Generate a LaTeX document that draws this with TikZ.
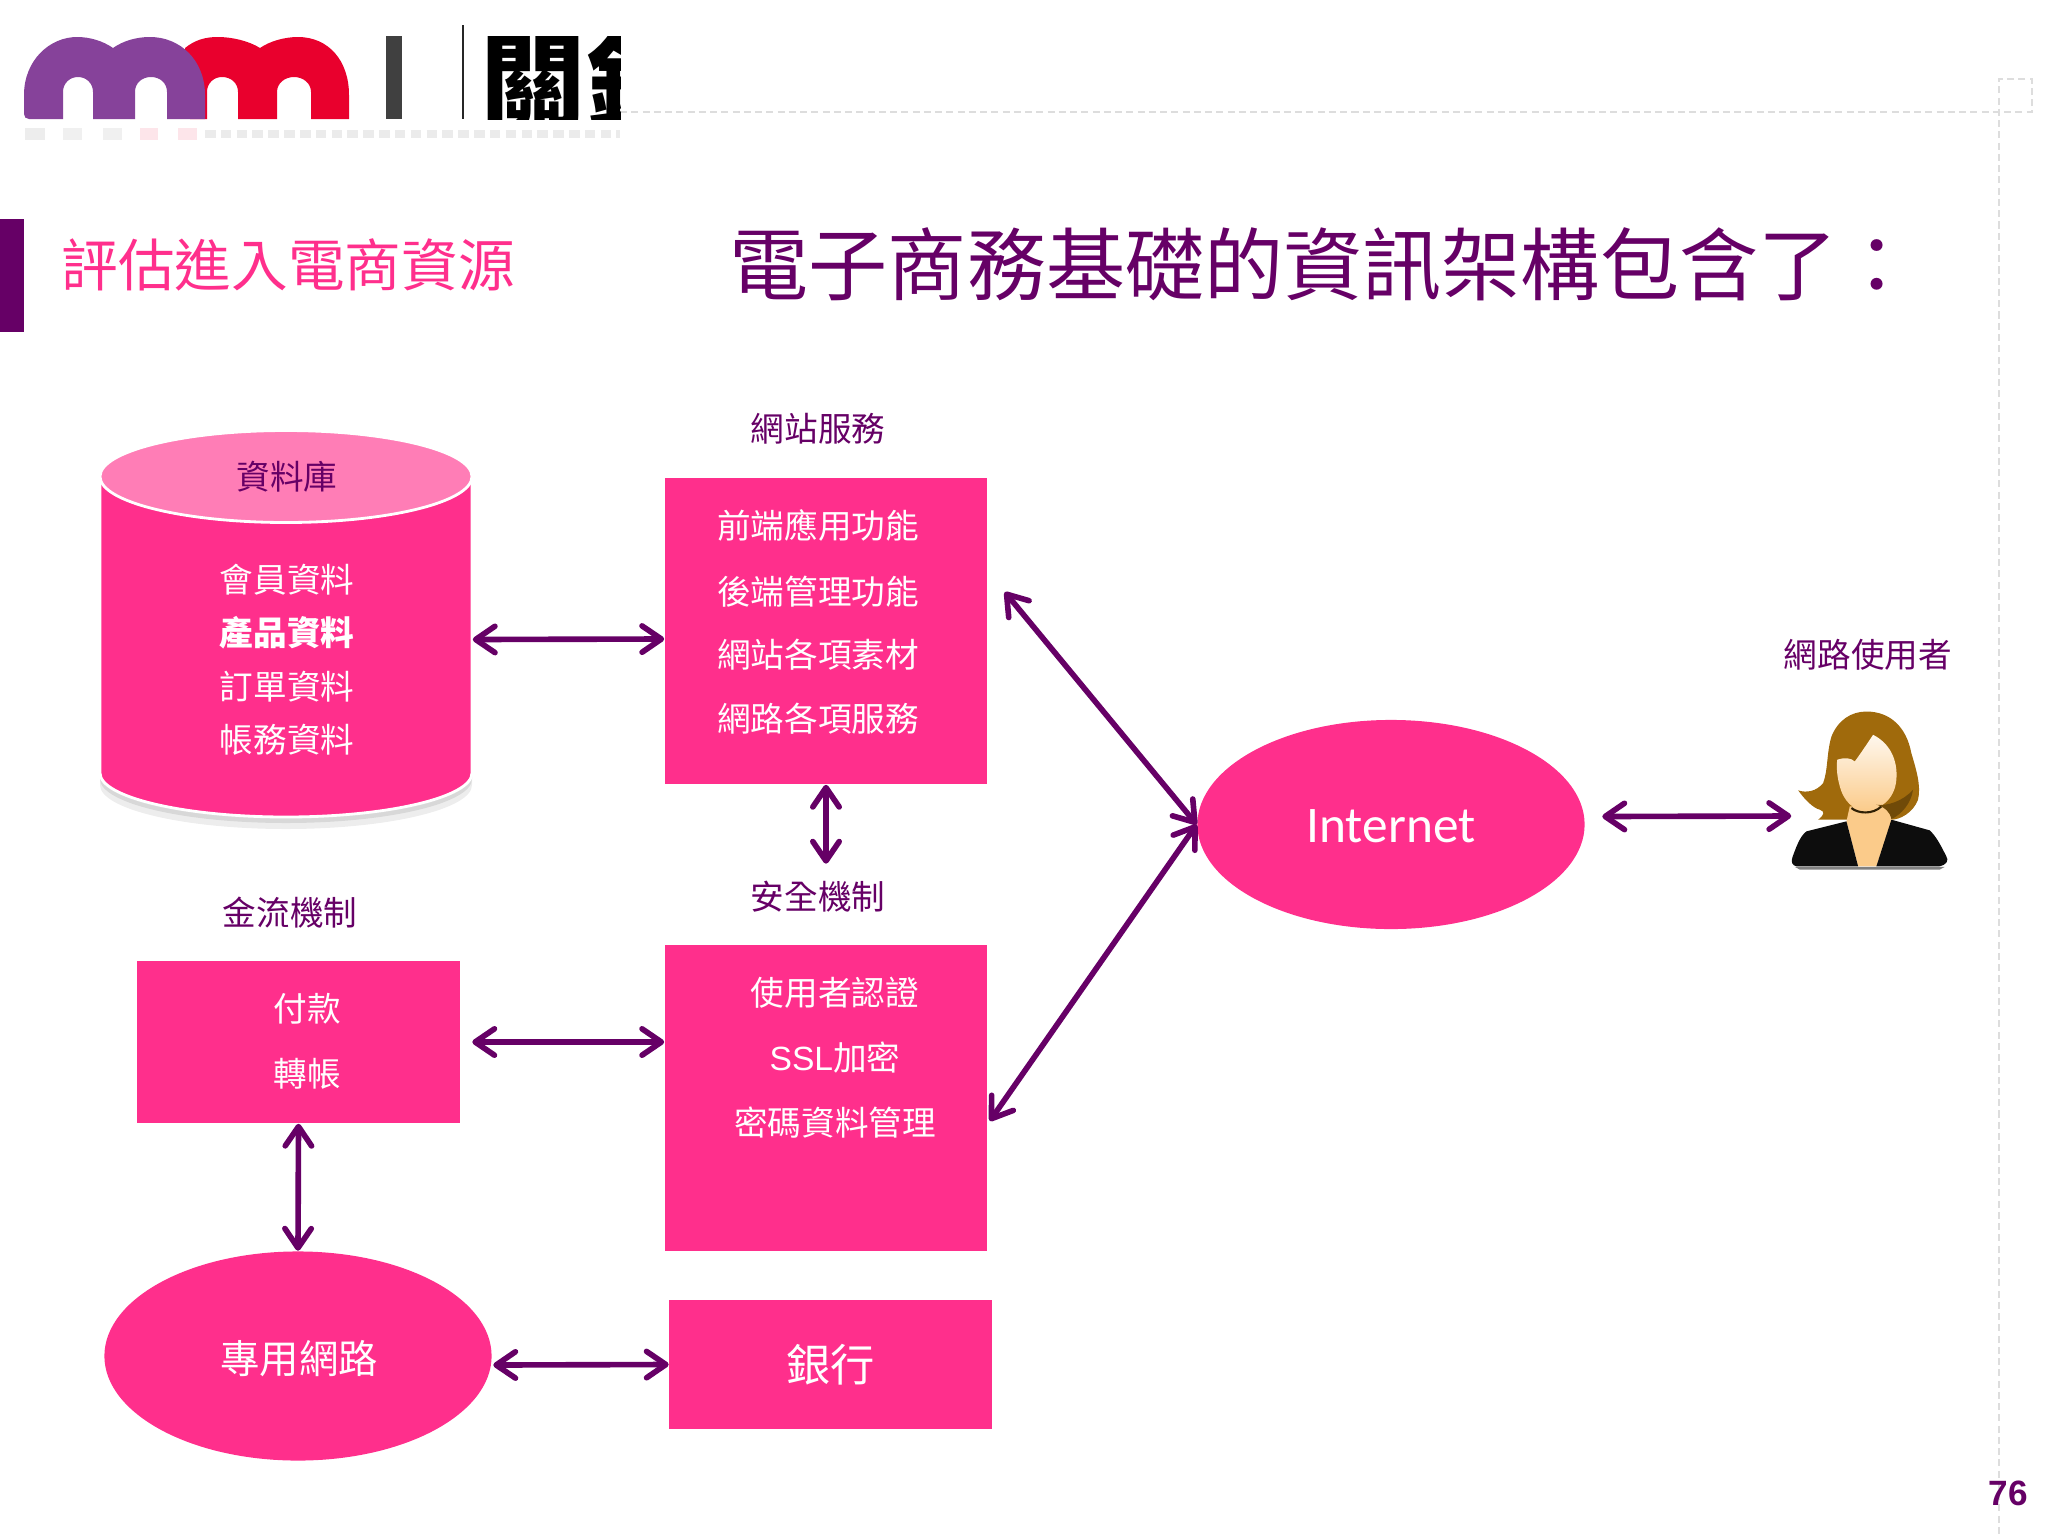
\documentclass[tikz,border=0pt]{standalone}
\usepackage{fontspec}
\usepackage{xcolor}
\usetikzlibrary{calc,arrows.meta,shapes.geometric}
\setmainfont{Noto Sans CJK TC}
\newfontfamily\latinfont{Liberation Sans}
\newfontfamily\netfont{Carlito}
\definecolor{mainpurple}{HTML}{660066}
\definecolor{barpink}{HTML}{FF2F8C}
\definecolor{toppink}{HTML}{FF7DB6}
\definecolor{dashgray}{HTML}{DDDDDD}
\definecolor{logopurple}{HTML}{86429A}
\definecolor{logored}{HTML}{E9002D}
\definecolor{hairbrown}{HTML}{A06A0C}
\definecolor{skintone}{HTML}{FBCB8A}
\tikzset{
  labeltext/.style={font=\fontsize{9.56}{11}\selectfont, text=mainpurple, inner sep=0pt},
  boxtext/.style={font=\fontsize{9.56}{11}\selectfont, text=white, inner sep=0pt},
  pinkbox/.style={rectangle, fill=barpink, inner sep=0pt, minimum width=3.22cm},
  pinkellipse/.style={ellipse, fill=barpink, inner sep=0pt, minimum width=3.87cm, minimum height=2.09cm},
  linkarrow/.style={draw=mainpurple, line width=1.6pt, line cap=round, {Straight Barb[length=5.5pt,width=7.5pt,round]}-{Straight Barb[length=5.5pt,width=7.5pt,round]}},
  framedash/.style={draw=dashgray, line width=0.7pt, dash pattern=on 2pt off 1.2pt}
}
\begin{document}
\begin{tikzpicture}[x=0.01cm, y=-0.01cm]
  \useasboundingbox (0,0) rectangle (2048,1536);
  \draw[framedash] (620,112) -- (2032,112) -- (2032,79) -- (1999,79) -- (1999,1536);
  \fill[logored] (185,48) .. controls (195,40) and (205,37) .. (218,37) .. controls (232,37) and (249,41) .. (260,48) .. controls (270,41) and (285,37) .. (298,37) .. controls (328,37) and (349,60) .. (349,95) -- (349,119) -- (311,119) -- (311,92) .. controls (311,83) and (303,77) .. (294,77) .. controls (285,77) and (277,83) .. (277,92) -- (277,119) -- (238,119) -- (238,92) .. controls (238,83) and (231,77) .. (222,77) .. controls (214,77) and (207,83) .. (207,92) -- (207,119) -- (190,119) -- cycle;
  \fill[logopurple] (24,114) -- (24,95) .. controls (24,60) and (50,37) .. (77,37) .. controls (90,37) and (103,41) .. (113,48) .. controls (123,41) and (136,37) .. (150,37) .. controls (180,37) and (205,60) .. (205,95) -- (205,119) -- (167,119) -- (167,92) .. controls (167,83) and (160,77) .. (151,77) .. controls (142,77) and (135,83) .. (135,92) -- (135,119) -- (93,119) -- (93,92) .. controls (93,83) and (86,77) .. (78,77) .. controls (70,77) and (63,83) .. (63,92) -- (63,119) -- (29,119) .. controls (26,119) and (24,117) .. (24,114) -- cycle;
  \fill[black!75] (386,36) rectangle (402,119);
  \fill[black!85] (462,25) rectangle (464,119);
  \begin{scope}
    \clip (470,36) rectangle (620,119);
    \node[font=\fontsize{30}{32}\selectfont\bfseries, anchor=west, inner sep=0pt] (logochars) at (480,82) {關鈺};
  \end{scope}
  \fill[black!7] (25,128) rectangle (45,140);
  \fill[black!6] (63,128) rectangle (82,140);
  \fill[black!6] (103,128) rectangle (122,140);
  \fill[logored!10] (140,128) rectangle (158,140);
  \fill[logored!10] (178,128) rectangle (197,140);
  \draw[black!8, line width=2pt, dash pattern=on 3pt off 1.5pt] (205,134) -- (620,134);
  \fill[mainpurple] (0,219) rectangle (24,332);
  \node[font=\fontsize{16.1}{18}\selectfont, text=barpink, anchor=west, inner sep=0pt] (sidetitle) at (61,265) {評估進入電商資源};
  \node[font=\fontsize{22.5}{26}\selectfont, text=mainpurple, anchor=west, inner sep=0pt] (maintitle) at (729,264) {電子商務基礎的資訊架構包含了：};
  \fill[black, opacity=0.07] (100,486) -- (100,785) .. controls (100,809) and (183,829) .. (286,829) .. controls (389,829) and (472,809) .. (472,785) -- (472,486) -- cycle;
  \fill[black, opacity=0.09] (100,486) -- (100,779) .. controls (100,803) and (183,823) .. (286,823) .. controls (389,823) and (472,803) .. (472,779) -- (472,486) -- cycle;
  \node[rectangle, inner sep=0pt, minimum width=3.72cm, minimum height=3.85cm] (db) at (286,624.5) {};
  \filldraw[fill=barpink, draw=white, line width=0.8pt] (100,477) -- (100,773) .. controls (100,797) and (183,817) .. (286,817) .. controls (389,817) and (472,797) .. (472,773) -- (472,477) -- cycle;
  \filldraw[fill=toppink, draw=white, line width=0.8pt] (286,476.5) ellipse [x radius=186, y radius=46];
  \node[labeltext] (dbtitle) at (287,477) {資料庫};
  \node[boxtext] (dbline1) at (287,580) {會員資料};
  \node[boxtext, font=\fontsize{9.56}{11}\selectfont\bfseries] (dbline2) at (287,633) {產品資料};
  \node[boxtext] (dbline3) at (287,687) {訂單資料};
  \node[boxtext] (dbline4) at (287,740) {帳務資料};
  \node[labeltext] (weblabel) at (818,429) {網站服務};
  \node[pinkbox, minimum height=3.06cm] (web) at (826,631) {};
  \node[boxtext] (webline1) at (818,525) {前端應用功能};
  \node[boxtext] (webline2) at (818,592) {後端管理功能};
  \node[boxtext] (webline3) at (818,655) {網站各項素材};
  \node[boxtext] (webline4) at (818,719) {網路各項服務};
  \node[labeltext] (seclabel) at (818,897) {安全機制};
  \node[pinkbox, minimum height=3.06cm] (sec) at (826,1098) {};
  \node[boxtext] (secline1) at (835,993) {使用者認證};
  \node[boxtext] (secline2) at (835,1058) {{\latinfont SSL}加密};
  \node[boxtext] (secline3) at (835,1123) {密碼資料管理};
  \node[labeltext] (paylabel) at (290,913) {金流機制};
  \node[pinkbox, minimum height=1.62cm] (pay) at (298.5,1042) {};
  \node[boxtext] (payline1) at (307,1009) {付款};
  \node[boxtext] (payline2) at (307,1074) {轉帳};
  \node[pinkellipse] (lease) at (298,1356) {};
  \node[font=\fontsize{11.2}{13}\selectfont, text=white, inner sep=0pt] (leasetext) at (299,1359) {專用網路};
  \node[pinkbox, minimum height=1.29cm, font=\fontsize{12.6}{14}\selectfont, text=white] (bank) at (830.5,1364.5) {銀行};
  \node[pinkellipse] (net) at (1391,824.5) {};
  \node[font=\fontsize{14.6}{16}\selectfont\netfont, text=white, inner sep=0pt] (nettext) at (1391,826) {Internet};
  \node[labeltext] (userlabel) at (1868,655) {網路使用者};
  \node[inner sep=0pt, minimum width=1.56cm, minimum height=1.56cm] (user) at (1870,790) {};
  \begin{scope}[shift={(1700,620)}, x=0.00333cm, y=-0.00333cm]
    \fill[hairbrown] (500,275) .. controls (570,275) and (620,320) .. (635,400) .. controls (650,450) and (665,500) .. (655,540) .. controls (640,580) and (600,600) .. (575,600) -- (355,600) .. controls (375,585) and (375,575) .. (360,570) .. controls (340,565) and (315,540) .. (295,512) .. controls (320,520) and (350,515) .. (370,490) .. controls (385,450) and (380,400) .. (395,350) .. controls (415,300) and (455,275) .. (500,275) -- cycle;
    \fill[skintone] (450,560) -- (570,560) -- (578,600) -- (530,740) -- (475,740) -- (440,605) -- cycle;
    \fill[black!50] (285,742) -- (735,742) -- (720,750) -- (300,750) -- cycle;
    \fill[black!95] (440,605) -- (475,740) -- (290,740) .. controls (278,738) and (272,728) .. (278,712) .. controls (290,680) and (300,650) .. (320,635) -- cycle;
    \fill[black!95] (575,600) -- (530,740) -- (720,740) .. controls (742,735) and (748,722) .. (740,710) .. controls (725,680) and (710,650) .. (690,632) -- cycle;
    \shade[top color=white!85!skintone, bottom color=skintone] (412,420) .. controls (435,412) and (455,415) .. (465,425) .. controls (480,405) and (500,375) .. (520,345) .. controls (570,370) and (595,420) .. (590,480) .. controls (585,540) and (540,570) .. (500,575) .. controls (460,575) and (430,540) .. (420,500) .. controls (412,470) and (410,450) .. (412,420) -- cycle;
    \draw[black!70!hairbrown, line width=0.6pt] (455,565) .. controls (475,582) and (520,585) .. (545,560);
    \fill[black!30!hairbrown] (530,555) .. controls (560,560) and (610,545) .. (640,510) .. controls (635,550) and (605,585) .. (575,598) .. controls (570,575) and (555,562) .. (530,555) -- cycle;
  \end{scope}
  \draw[linkarrow] ($(db.east)+(0,15)$) -- ($(web.west)+(0,8)$);
  \draw[linkarrow] (web.south) -- ($(web.south |- seclabel.north)+(0,-17)$);
  \draw[linkarrow] ($(web.east)+(17,-39)$) -- (net.west);
  \draw[linkarrow] ($(sec.east)+(2,23)$) -- (net.west);
  \draw[linkarrow] ($(net.east)+(17,-8)$) -- (user.west |- 0,816);
  \draw[linkarrow] ($(pay.east)+(12,0)$) -- (sec.west |- pay.east);
  \draw[linkarrow] (pay.south) -- (lease.north);
  \draw[linkarrow] ($(lease.east)+(1,9)$) -- (bank.west);
  \node[font=\fontsize{10}{12}\selectfont\bfseries\latinfont, text=mainpurple, inner sep=0pt] (pagenum) at (2008,1493) {76};
\end{tikzpicture}
\end{document}
